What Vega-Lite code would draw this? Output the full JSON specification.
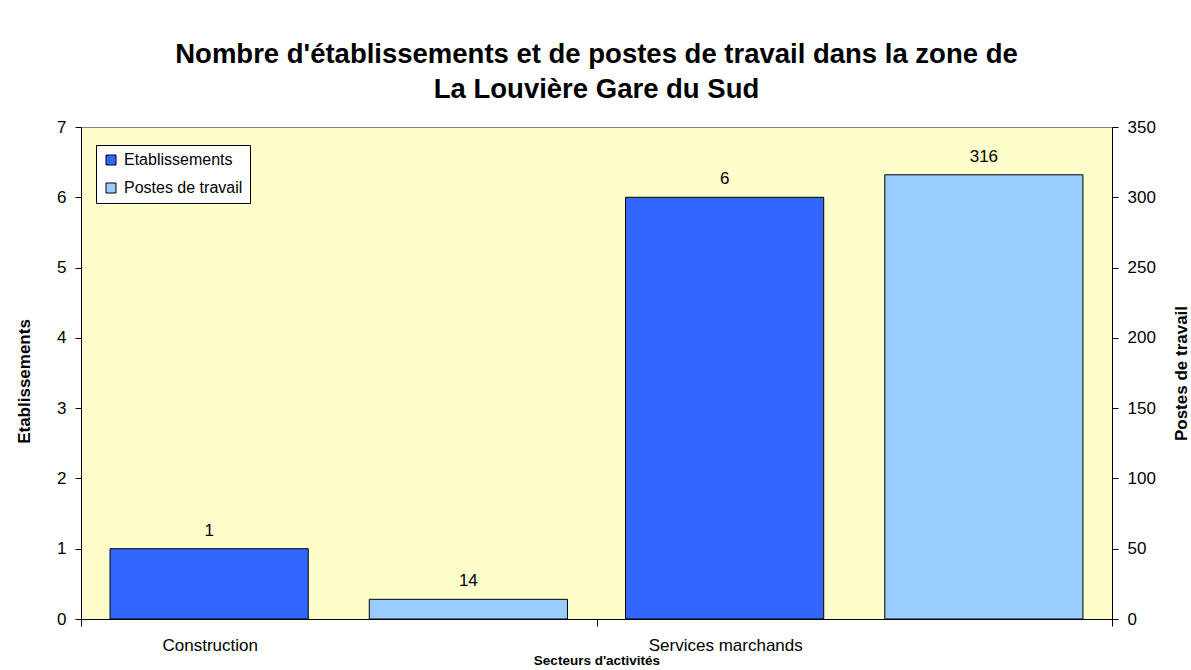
{
  "$schema": "https://vega.github.io/schema/vega-lite/v6.json",
  "width": 1031,
  "height": 492,
  "autosize": {"type": "none"},
  "padding": {"left": 81, "top": 127, "right": 79, "bottom": 51},
  "background": "white",
  "title": {
    "text": ["Nombre d'établissements et de postes de travail dans la zone de", "La Louvière Gare du Sud"],
    "font": "Liberation Sans",
    "fontSize": 27.5,
    "fontWeight": "bold",
    "color": "black",
    "anchor": "middle",
    "lineHeight": 35,
    "offset": 15
  },
  "config": {
    "view": {"fill": "#FFFFCC", "stroke": "#808080", "strokeWidth": 1},
    "axis": {
      "labelFont": "Liberation Sans",
      "labelFontSize": 17,
      "labelColor": "black",
      "titleFont": "Liberation Sans",
      "titleFontSize": 17,
      "titleFontWeight": "bold",
      "titleColor": "black",
      "domainColor": "black",
      "tickColor": "black",
      "grid": false
    },
    "text": {"font": "Liberation Sans"}
  },
  "data": {
    "values": [
      {"secteur": "Construction", "serie": "Etablissements", "valeur": 1},
      {"secteur": "Construction", "serie": "Postes de travail", "valeur": 14},
      {"secteur": "Services marchands", "serie": "Etablissements", "valeur": 6},
      {"secteur": "Services marchands", "serie": "Postes de travail", "valeur": 316}
    ]
  },
  "encoding": {
    "x": {
      "field": "secteur",
      "type": "nominal",
      "scale": {"paddingInner": 0, "paddingOuter": 0},
      "axis": {
        "title": "Secteurs d'activités",
        "titleFontSize": 13.5,
        "labelAngle": 0,
        "labelOffset": -129,
        "labelPadding": 11,
        "tickBand": "extent",
        "tickSize": 7,
        "titlePadding": 0
      }
    },
    "xOffset": {
      "field": "serie",
      "type": "nominal",
      "scale": {"domain": ["Etablissements", "Postes de travail"], "paddingInner": 0.2355, "paddingOuter": 0.112}
    },
    "color": {
      "field": "serie",
      "type": "nominal",
      "scale": {"domain": ["Etablissements", "Postes de travail"], "range": ["#3366FF", "#99CCFF"]},
      "legend": {
        "orient": "none",
        "legendX": 15,
        "legendY": 18,
        "title": null,
        "fillColor": "white",
        "strokeColor": "black",
        "padding": 7,
        "symbolType": "square",
        "symbolSize": 100,
        "symbolStrokeColor": "black",
        "symbolStrokeWidth": 1,
        "symbolOpacity": 1,
        "labelFont": "Liberation Sans",
        "labelFontSize": 16,
        "labelColor": "black",
        "labelOffset": 5,
        "rowPadding": 12
      }
    }
  },
  "layer": [
    {
      "transform": [{"filter": "datum.serie === 'Etablissements'"}],
      "encoding": {
        "y": {
          "field": "valeur",
          "type": "quantitative",
          "scale": {"domain": [0, 7]},
          "axis": {"title": "Etablissements", "orient": "left", "tickCount": 7, "tickSize": 6, "labelPadding": 9, "titlePadding": 23, "titleY": 254}
        }
      },
      "layer": [
        {"mark": {"type": "bar", "stroke": "black", "strokeWidth": 1, "opacity": 1}},
        {
          "mark": {"type": "text", "baseline": "bottom", "dy": -9, "fontSize": 17},
          "encoding": {"text": {"field": "valeur", "type": "quantitative"}, "color": {"value": "black"}}
        }
      ]
    },
    {
      "transform": [{"filter": "datum.serie === 'Postes de travail'"}],
      "encoding": {
        "y": {
          "field": "valeur",
          "type": "quantitative",
          "scale": {"domain": [0, 350]},
          "axis": {"title": "Postes de travail", "orient": "right", "titleAngle": 270, "tickCount": 7, "tickSize": 6, "labelPadding": 9, "titlePadding": 35}
        }
      },
      "layer": [
        {"mark": {"type": "bar", "stroke": "black", "strokeWidth": 1, "opacity": 1}},
        {
          "mark": {"type": "text", "baseline": "bottom", "dy": -9, "fontSize": 17},
          "encoding": {"text": {"field": "valeur", "type": "quantitative"}, "color": {"value": "black"}}
        }
      ]
    }
  ],
  "resolve": {"scale": {"y": "independent"}}
}
